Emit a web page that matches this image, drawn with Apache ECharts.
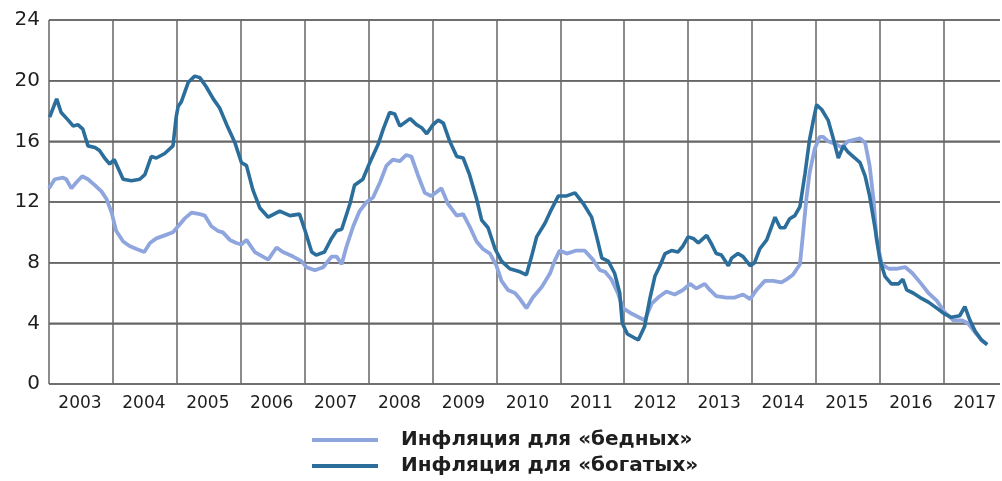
<!DOCTYPE html>
<html>
<head>
<meta charset="utf-8">
<script src="https://cdn.jsdelivr.net/npm/echarts@6/dist/echarts.min.js"></script>
<style>
html,body{margin:0;padding:0;background:#fff;}
#chart{width:1002px;height:481px;}
</style>
</head>
<body>
<div id="chart"></div>
<script>
// Legend names
const seriesNames = ['Инфляция для «бедных»', 'Инфляция для «богатых»'];
// Y axis ticks
const yTicks = [0, 4, 8, 12, 16, 20, 24];
// Year labels
const years = [2003,2004,2005,2006,2007,2008,2009,2010,2011,2012,2013,2014,2015,2016,2017];

// Inflation for "poor" households: [year (decimal), %]
const poorData = [
[2003.00,12.9],[2003.09,13.5],[2003.22,13.6],[2003.27,13.5],[2003.35,12.9],[2003.43,13.3],[2003.52,13.7],[2003.61,13.5],[2003.72,13.1],[2003.82,12.7],[2003.90,12.2],[2003.98,11.3],
[2004.05,10.1],[2004.16,9.4],[2004.26,9.1],[2004.37,8.9],[2004.49,8.7],[2004.58,9.3],[2004.68,9.6],[2004.81,9.8],[2004.94,10.0],
[2005.02,10.4],[2005.12,10.9],[2005.23,11.3],[2005.36,11.2],[2005.44,11.1],[2005.54,10.4],[2005.64,10.1],[2005.72,10.0],[2005.83,9.5],[2005.93,9.3],
[2006.01,9.2],[2006.09,9.5],[2006.22,8.7],[2006.43,8.2],[2006.56,9.0],[2006.66,8.7],[2006.82,8.4],[2006.95,8.1],
[2007.03,7.7],[2007.16,7.5],[2007.29,7.7],[2007.42,8.4],[2007.50,8.4],[2007.58,7.9],[2007.65,9.0],[2007.76,10.4],[2007.86,11.4],[2007.97,12.0],
[2008.07,12.3],[2008.18,13.3],[2008.28,14.4],[2008.38,14.8],[2008.49,14.7],[2008.59,15.1],[2008.67,15.0],[2008.77,13.8],[2008.88,12.6],[2008.98,12.4],
[2009.14,12.9],[2009.24,11.9],[2009.38,11.1],[2009.48,11.2],[2009.58,10.4],[2009.69,9.4],[2009.79,8.9],[2009.90,8.6],
[2010.00,7.8],[2010.08,6.8],[2010.18,6.2],[2010.29,6.0],[2010.37,5.6],[2010.47,5.0],[2010.57,5.7],[2010.71,6.4],[2010.84,7.3],[2010.91,8.1],[2010.99,8.8],
[2011.10,8.6],[2011.25,8.8],[2011.38,8.8],[2011.51,8.2],[2011.62,7.5],[2011.70,7.4],[2011.80,6.9],[2011.90,6.0],[2011.98,5.0],
[2012.09,4.7],[2012.32,4.2],[2012.43,5.3],[2012.53,5.7],[2012.66,6.1],[2012.79,5.9],[2012.92,6.2],
[2013.03,6.6],[2013.13,6.3],[2013.26,6.6],[2013.34,6.2],[2013.44,5.8],[2013.60,5.7],[2013.73,5.7],[2013.86,5.9],[2013.97,5.6],
[2014.07,6.2],[2014.20,6.8],[2014.33,6.8],[2014.46,6.7],[2014.54,6.9],[2014.64,7.2],[2014.75,7.9],[2014.80,10.0],[2014.85,12.2],[2014.90,13.9],[2014.98,15.5],
[2015.06,16.3],[2015.11,16.3],[2015.19,16.0],[2015.32,15.8],[2015.40,15.6],[2015.50,16.0],[2015.69,16.2],[2015.77,15.9],[2015.84,14.4],[2015.90,12.2],[2015.95,9.5],
[2016.03,7.9],[2016.14,7.6],[2016.27,7.6],[2016.40,7.7],[2016.51,7.3],[2016.63,6.7],[2016.76,6.0],[2016.89,5.5],
[2017.02,4.7],[2017.15,4.2],[2017.28,4.2],[2017.38,4.0],[2017.49,3.4],[2017.59,2.9],[2017.68,2.6]
];

// Inflation for "rich" households: [year (decimal), %]
const richData = [
[2003.01,17.6],[2003.12,18.8],[2003.19,17.9],[2003.30,17.4],[2003.38,17.0],[2003.45,17.1],[2003.53,16.8],[2003.61,15.7],[2003.72,15.6],[2003.79,15.4],[2003.87,14.9],[2003.95,14.5],
[2004.02,14.8],[2004.16,13.5],[2004.29,13.4],[2004.42,13.5],[2004.50,13.8],[2004.60,15.0],[2004.68,14.9],[2004.81,15.2],[2004.94,15.7],[2004.99,17.6],
[2005.02,18.3],[2005.07,18.6],[2005.18,19.9],[2005.28,20.3],[2005.36,20.2],[2005.46,19.6],[2005.57,18.8],[2005.67,18.2],[2005.78,17.1],[2005.91,15.9],
[2006.01,14.6],[2006.09,14.4],[2006.19,12.8],[2006.30,11.6],[2006.43,11.0],[2006.61,11.4],[2006.77,11.1],[2006.92,11.2],
[2007.00,10.2],[2007.11,8.7],[2007.18,8.5],[2007.31,8.7],[2007.42,9.6],[2007.50,10.1],[2007.58,10.2],[2007.71,11.9],[2007.78,13.1],[2007.91,13.5],
[2008.02,14.6],[2008.15,15.8],[2008.23,16.8],[2008.33,17.9],[2008.41,17.8],[2008.49,17.0],[2008.65,17.5],[2008.75,17.1],[2008.83,16.9],[2008.91,16.5],
[2009.01,17.1],[2009.09,17.4],[2009.17,17.2],[2009.27,16.0],[2009.38,15.0],[2009.48,14.9],[2009.58,13.8],[2009.69,12.2],[2009.77,10.8],[2009.87,10.3],[2009.98,8.9],
[2010.08,8.1],[2010.21,7.6],[2010.37,7.4],[2010.47,7.2],[2010.55,8.4],[2010.63,9.7],[2010.76,10.6],[2010.86,11.5],[2010.97,12.4],
[2011.10,12.4],[2011.23,12.6],[2011.36,11.9],[2011.49,11.0],[2011.57,9.7],[2011.65,8.3],[2011.75,8.1],[2011.85,7.3],[2011.93,6.0],[2011.97,4.0],
[2012.05,3.3],[2012.22,2.9],[2012.32,3.8],[2012.40,5.6],[2012.48,7.1],[2012.56,7.8],[2012.64,8.6],[2012.74,8.8],[2012.84,8.7],[2012.92,9.1],
[2013.00,9.7],[2013.08,9.6],[2013.16,9.3],[2013.29,9.8],[2013.37,9.2],[2013.44,8.6],[2013.52,8.5],[2013.63,7.8],[2013.68,8.3],[2013.78,8.6],[2013.86,8.4],[2013.97,7.8],
[2014.04,8.0],[2014.12,8.9],[2014.23,9.5],[2014.36,11.0],[2014.44,10.3],[2014.51,10.3],[2014.59,10.9],[2014.67,11.1],[2014.75,11.7],[2014.83,13.9],[2014.90,16.1],[2014.96,17.4],
[2015.01,18.4],[2015.09,18.1],[2015.19,17.4],[2015.27,16.2],[2015.35,14.9],[2015.43,15.7],[2015.50,15.3],[2015.61,14.9],[2015.69,14.6],[2015.77,13.7],[2015.84,12.4],[2015.92,10.4],
[2016.00,8.2],[2016.08,7.1],[2016.18,6.6],[2016.29,6.6],[2016.36,6.9],[2016.42,6.2],[2016.52,6.0],[2016.63,5.7],[2016.76,5.4],[2016.89,5.0],
[2017.02,4.6],[2017.12,4.4],[2017.25,4.5],[2017.33,5.1],[2017.41,4.2],[2017.49,3.5],[2017.59,2.9],[2017.68,2.6]
];

const poorColor = '#8fa5dd';
const richColor = '#2c6e9b';
const gridColor = '#666666';
const textColor = '#1e1e1e';
const fontFam = '"DejaVu Sans", "Open Sans", sans-serif';

const chart = echarts.init(document.getElementById('chart'), null, {renderer: 'canvas'});
chart.setOption({
  animation: false,
  backgroundColor: '#ffffff',
  grid: { left: 49, top: 20, right: 2, bottom: 97 },
  xAxis: {
    type: 'value',
    min: years[0],
    max: 2017.88,
    interval: 1,
    axisLine: { show: false },
    axisTick: { show: false },
    splitLine: { show: true, showMaxLine: false, lineStyle: { color: gridColor, width: 1.5 } },
    axisLabel: {
      margin: 11,
      color: textColor,
      fontFamily: fontFam,
      fontSize: 17,
      padding: [0, 0, 0, 62],
      showMaxLabel: false,
      formatter: v => (years.indexOf(v) >= 0 ? String(v) : '')
    }
  },
  yAxis: {
    type: 'value',
    min: yTicks[0],
    max: yTicks[yTicks.length - 1],
    interval: 4,
    axisLine: { show: false },
    axisTick: { show: false },
    splitLine: { show: true, lineStyle: { color: gridColor, width: 1.5 } },
    axisLabel: { margin: 9, color: textColor, fontFamily: fontFam, fontSize: 20 }
  },
  legend: {
    orient: 'vertical',
    left: 307,
    top: 425,
    height: 70,
    itemWidth: 66,
    itemHeight: 4,
    itemGap: 6,
    icon: 'rect',
    data: seriesNames,
    textStyle: {
      color: textColor,
      fontFamily: fontFam,
      fontSize: 20,
      fontWeight: 'bold',
      padding: [0, 0, 0, 18]
    }
  },
  series: [
    {
      name: 'grid-h',
      type: 'custom',
      silent: true,
      z: 1,
      clip: false,
      encode: { x: 0, y: 1 },
      data: yTicks.map(v => [years[0], v]),
      renderItem: function (params, api) {
        const cs = params.coordSys;
        const y = api.coord([api.value(0), api.value(1)])[1];
        return {
          type: 'rect',
          shape: { x: cs.x, y: y - 0.75, width: cs.width, height: 1.5 },
          style: { fill: gridColor }
        };
      }
    },
    {
      name: seriesNames[0],
      type: 'line',
      data: poorData,
      showSymbol: false,
      symbol: 'none',
      lineStyle: { color: poorColor, width: 3.8 },
      itemStyle: { color: poorColor },
      z: 2
    },
    {
      name: seriesNames[1],
      type: 'line',
      data: richData,
      showSymbol: false,
      symbol: 'none',
      lineStyle: { color: richColor, width: 3.6 },
      itemStyle: { color: richColor },
      z: 3
    }
  ]
});
</script>
</body>
</html>
